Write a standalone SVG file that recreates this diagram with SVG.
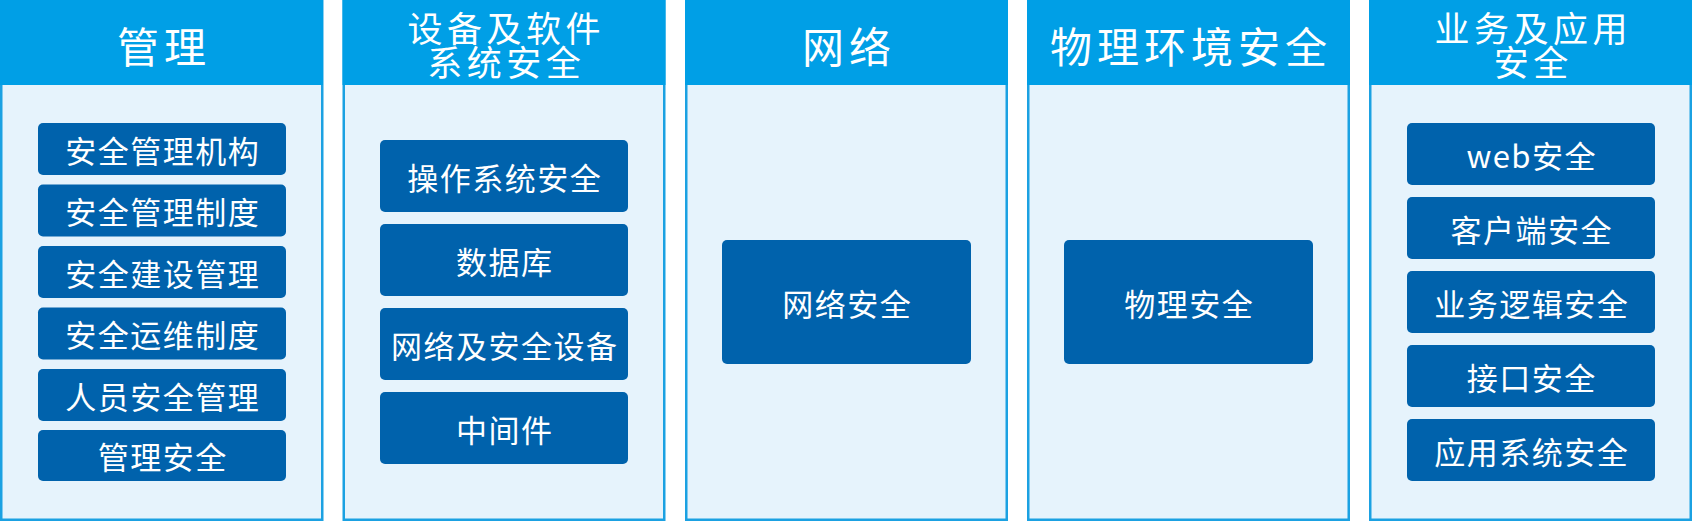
<svg xmlns="http://www.w3.org/2000/svg" width="1693" height="521" viewBox="0 0 1693 521">
<style>
.panel{fill:#E6F3FC;stroke:#1BA1E2;stroke-width:2.5}
.head{fill:#009FE6}
.box{fill:#0062AC}
.ht{font-family:"Noto Sans CJK SC","Noto Sans",sans-serif;fill:#FFFFFF;text-anchor:middle;dominant-baseline:central}
.h1{font-size:42px;letter-spacing:5px}
.h2{font-size:35px;letter-spacing:4.5px}
.bt{font-family:"Noto Sans CJK SC","Noto Sans",sans-serif;font-size:31px;letter-spacing:1.5px;fill:#FFFFFF;text-anchor:middle;dominant-baseline:central}
</style>
<rect width="1693" height="521" fill="#FFFFFF"/>
<g id="col-mgmt">
<rect class="panel" x="1.25" y="1.25" width="321" height="518.5"/>
<rect class="head" x="0" y="0" width="323" height="85"/>
<text class="ht h1" x="164" y="44">管理</text>
<g id="m1"><rect class="box" x="38" y="123" width="248" height="52" rx="5"/><text class="bt" x="162.75" y="149">安全管理机构</text></g>
<g id="m2"><rect class="box" x="38" y="184.5" width="248" height="52" rx="5"/><text class="bt" x="162.75" y="210.5">安全管理制度</text></g>
<g id="m3"><rect class="box" x="38" y="246" width="248" height="52" rx="5"/><text class="bt" x="162.75" y="272">安全建设管理</text></g>
<g id="m4"><rect class="box" x="38" y="307.5" width="248" height="52" rx="5"/><text class="bt" x="162.75" y="333.5">安全运维制度</text></g>
<g id="m5"><rect class="box" x="38" y="369" width="248" height="52" rx="5"/><text class="bt" x="162.75" y="395">人员安全管理</text></g>
<g id="m6"><rect class="box" x="38" y="430" width="248" height="51" rx="5"/><text class="bt" x="162.75" y="455.5">管理安全</text></g>
</g>
<g id="col-device">
<rect class="panel" x="343.75" y="1.25" width="320.5" height="518.5"/>
<rect class="head" x="342.5" y="0" width="323" height="85"/>
<text class="ht h2" y="26"><tspan x="506.25" y="26">设备及软件</tspan><tspan x="506.25" y="60">系统安全</tspan></text>
<g id="d1"><rect class="box" x="380" y="140" width="248" height="72" rx="5"/><text class="bt" x="504.75" y="176">操作系统安全</text></g>
<g id="d2"><rect class="box" x="380" y="224" width="248" height="72" rx="5"/><text class="bt" x="504.75" y="260">数据库</text></g>
<g id="d3"><rect class="box" x="380" y="308" width="248" height="72" rx="5"/><text class="bt" x="504.75" y="344">网络及安全设备</text></g>
<g id="d4"><rect class="box" x="380" y="392" width="248" height="72" rx="5"/><text class="bt" x="504.75" y="428">中间件</text></g>
</g>
<g id="col-net">
<rect class="panel" x="686.25" y="1.25" width="320.5" height="518.5"/>
<rect class="head" x="685" y="0" width="323" height="85"/>
<text class="ht h1" x="849" y="44">网络</text>
<g id="n1"><rect class="box" x="722" y="240" width="249" height="124" rx="5"/><text class="bt" x="847.25" y="302">网络安全</text></g>
</g>
<g id="col-phys">
<rect class="panel" x="1028.25" y="1.25" width="320.5" height="518.5"/>
<rect class="head" x="1027" y="0" width="323" height="85"/>
<text class="ht h1" x="1191" y="44">物理环境安全</text>
<g id="p1"><rect class="box" x="1064" y="240" width="249" height="124" rx="5"/><text class="bt" x="1189.25" y="302">物理安全</text></g>
</g>
<g id="col-app">
<rect class="panel" x="1370.25" y="1.25" width="320.5" height="518.5"/>
<rect class="head" x="1369" y="0" width="323" height="85"/>
<text class="ht h2" y="26"><tspan x="1533.25" y="26">业务及应用</tspan><tspan x="1533.25" y="60">安全</tspan></text>
<g id="a1"><rect class="box" x="1407" y="123" width="248" height="62" rx="5"/><text class="bt" x="1531.75" y="154">web安全</text></g>
<g id="a2"><rect class="box" x="1407" y="197" width="248" height="62" rx="5"/><text class="bt" x="1531.75" y="228">客户端安全</text></g>
<g id="a3"><rect class="box" x="1407" y="271" width="248" height="62" rx="5"/><text class="bt" x="1531.75" y="302">业务逻辑安全</text></g>
<g id="a4"><rect class="box" x="1407" y="345" width="248" height="62" rx="5"/><text class="bt" x="1531.75" y="376">接口安全</text></g>
<g id="a5"><rect class="box" x="1407" y="419" width="248" height="62" rx="5"/><text class="bt" x="1531.75" y="450">应用系统安全</text></g>
</g>
<g id="connectors"/>
</svg>
